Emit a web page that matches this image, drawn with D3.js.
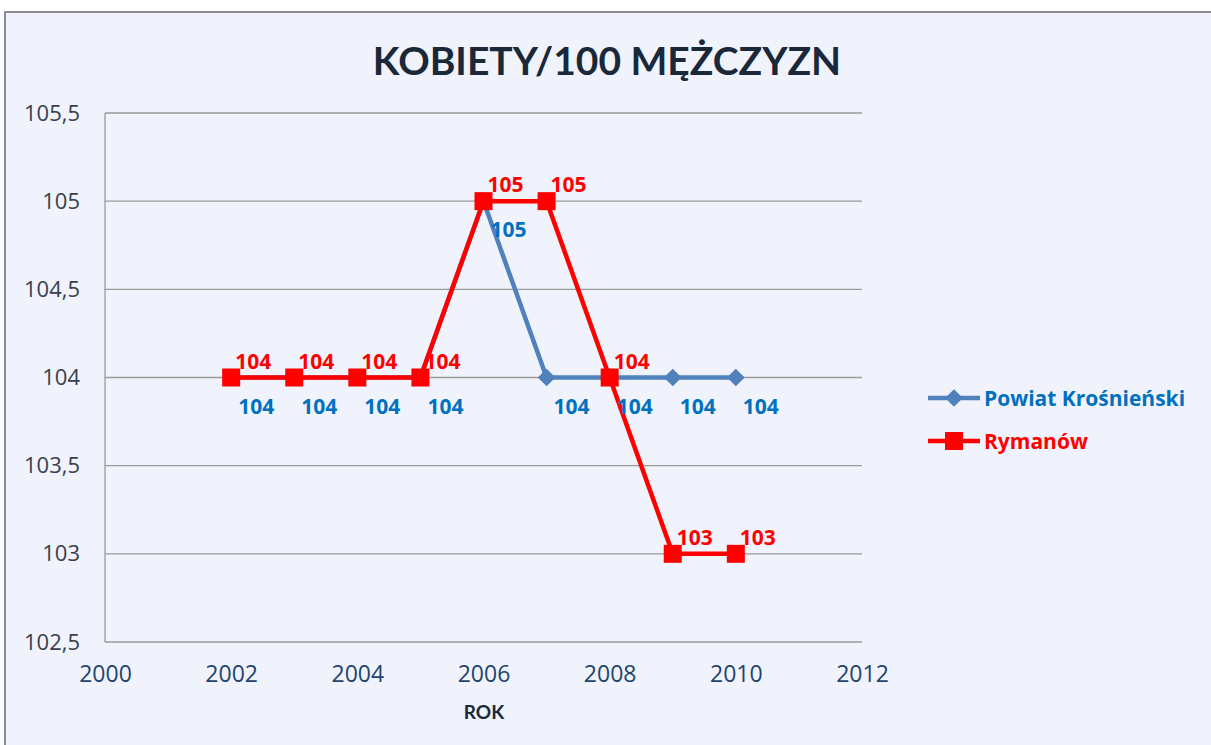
<!DOCTYPE html>
<html>
<head>
<meta charset="utf-8">
<script src="https://cdn.jsdelivr.net/npm/d3@7"></script>
<style>
  body { margin: 0; background: #fff; }
  svg { display: block; }
</style>
</head>
<body>
<svg width="1211" height="745"></svg>
<script>
const years = [2002, 2003, 2004, 2005, 2006, 2007, 2008, 2009, 2010];
const powiat = [104, 104, 104, 104, 105, 104, 104, 104, 104];
const rymanow = [104, 104, 104, 104, 105, 105, 104, 103, 103];
const xTicks = [2000, 2002, 2004, 2006, 2008, 2010, 2012];
const yTicks = [102.5, 103, 103.5, 104, 104.5, 105, 105.5];

const seriesNames = ["Powiat Krośnieński", "Rymanów"];

const margin = {top: 113, left: 105},
    width = 862 - 105,
    height = 642 - 113;

const titleFont = "Lato, 'Open Sans', sans-serif";
const font = "'Open Sans', 'DejaVu Sans', sans-serif";

const svg = d3.select("svg");

// outer frame
svg.append("rect")
    .attr("x", 5).attr("y", 12)
    .attr("width", 1240).attr("height", 760)
    .attr("fill", "#f0f3fb")
    .attr("stroke", "#8c8c8c")
    .attr("stroke-width", 2);

svg.append("text")
    .attr("x", 607).attr("y", 75)
    .attr("text-anchor", "middle")
    .attr("font-family", titleFont)
    .attr("font-weight", "bold")
    .attr("font-size", 39)
    .attr("fill", "#1a283a")
    .text("KOBIETY/100 MĘŻCZYZN");

const g = svg.append("g")
    .attr("transform", `translate(${margin.left},${margin.top})`);

const x = d3.scaleLinear().domain([2000, 2012]).range([0, width]);
const y = d3.scaleLinear().domain([102.5, 105.5]).range([height, 0]);

// gridlines
g.selectAll(".grid")
    .data(yTicks)
    .enter()
    .append("line")
    .attr("x1", 0).attr("x2", width)
    .attr("y1", d => y(d)).attr("y2", d => y(d))
    .attr("stroke", "#9a9a9a")
    .attr("stroke-width", 1.3);

g.append("line")
    .attr("x1", 0).attr("x2", 0)
    .attr("y1", 0).attr("y2", height)
    .attr("stroke", "#9a9a9a")
    .attr("stroke-width", 1.3);

const yAxis = g.append("g")
    .call(d3.axisLeft(y).tickValues(yTicks).tickSize(0).tickPadding(25)
      .tickFormat(d => String(d).replace(".", ",")));
yAxis.select(".domain").remove();
yAxis.selectAll("text")
    .attr("font-family", font)
    .attr("font-size", 22)
    .attr("fill", "#38404d");

const xAxis = g.append("g")
    .attr("transform", `translate(0,${height})`)
    .call(d3.axisBottom(x).tickValues(xTicks).tickSize(0).tickPadding(24).tickFormat(d3.format("d")));
xAxis.select(".domain").remove();
xAxis.selectAll("text")
    .attr("font-family", font)
    .attr("font-size", 23)
    .attr("fill", "#1f4470");

svg.append("text")
    .attr("x", 484).attr("y", 719)
    .attr("text-anchor", "middle")
    .attr("font-family", titleFont)
    .attr("font-weight", "bold")
    .attr("font-size", 19)
    .attr("fill", "#1a283a")
    .text("ROK");

const line = d3.line()
    .x((d, i) => x(years[i]))
    .y(d => y(d));

// Powiat Krośnieński
g.append("path")
    .datum(powiat)
    .attr("d", line)
    .attr("fill", "none")
    .attr("stroke", "#4f81bd")
    .attr("stroke-width", 4.5);

g.selectAll(".diamond")
    .data(powiat)
    .enter()
    .append("path")
    .attr("d", d3.symbol(d3.symbolDiamond2, 200))
    .attr("transform", (d, i) => `translate(${x(years[i])},${y(d)})`)
    .attr("fill", "#4f81bd");

// Rymanów
g.append("path")
    .datum(rymanow)
    .attr("d", line)
    .attr("fill", "none")
    .attr("stroke", "#ff0000")
    .attr("stroke-width", 4.5);

g.selectAll(".square")
    .data(rymanow)
    .enter()
    .append("rect")
    .attr("x", (d, i) => x(years[i]) - 9)
    .attr("y", d => y(d) - 9)
    .attr("width", 18).attr("height", 18)
    .attr("fill", "#ff0000");

// data labels
g.selectAll(".lblBlue")
    .data(powiat)
    .enter()
    .append("text")
    .attr("x", (d, i) => x(years[i]) + 25)
    .attr("y", d => y(d) + 36)
    .attr("text-anchor", "middle")
    .attr("font-family", font)
    .attr("font-weight", "bold")
    .attr("font-size", 21)
    .attr("fill", "#0070c0")
    .text(d => d);

g.selectAll(".lblRed")
    .data(rymanow)
    .enter()
    .append("text")
    .attr("x", (d, i) => x(years[i]) + 22)
    .attr("y", d => y(d) - 9)
    .attr("text-anchor", "middle")
    .attr("font-family", font)
    .attr("font-weight", "bold")
    .attr("font-size", 21)
    .attr("fill", "#ff0000")
    .text(d => d);

// legend
const legend = svg.append("g").attr("transform", "translate(928,398)");

legend.append("line")
    .attr("x1", 0).attr("x2", 52).attr("y1", 0).attr("y2", 0)
    .attr("stroke", "#4f81bd").attr("stroke-width", 4.5);
legend.append("path")
    .attr("d", d3.symbol(d3.symbolDiamond2, 200))
    .attr("transform", "translate(26,0)")
    .attr("fill", "#4f81bd");
legend.append("text")
    .attr("x", 56).attr("y", 8)
    .attr("font-family", font)
    .attr("font-weight", "bold")
    .attr("font-size", 21)
    .attr("fill", "#0070c0")
    .text(seriesNames[0]);

legend.append("line")
    .attr("x1", 0).attr("x2", 52).attr("y1", 43).attr("y2", 43)
    .attr("stroke", "#ff0000").attr("stroke-width", 4.5);
legend.append("rect")
    .attr("x", 17).attr("y", 34).attr("width", 18).attr("height", 18)
    .attr("fill", "#ff0000");
legend.append("text")
    .attr("x", 56).attr("y", 51)
    .attr("font-family", font)
    .attr("font-weight", "bold")
    .attr("font-size", 21)
    .attr("fill", "#ff0000")
    .text(seriesNames[1]);
</script>
</body>
</html>
